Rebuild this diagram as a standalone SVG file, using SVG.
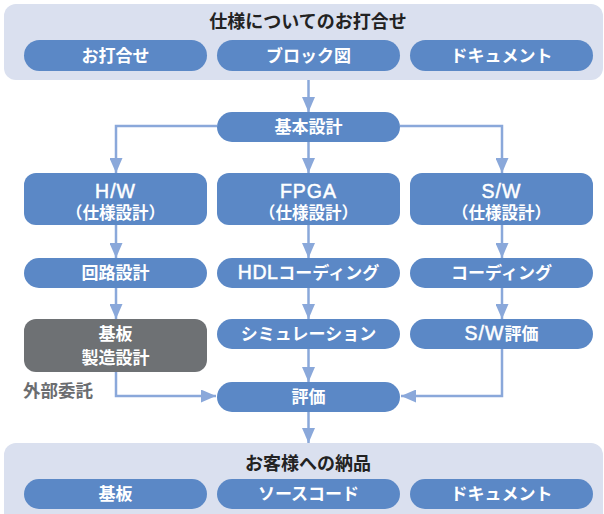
<svg xmlns="http://www.w3.org/2000/svg" width="604" height="514" viewBox="0 0 604 514">
<defs>
<style>
.panel{fill:#dae0ef}
.pill{fill:#5b88c6}
.gray{fill:#6e7174}
.t{font-family:"Noto Sans CJK JP","Noto Sans",sans-serif;font-weight:700;text-anchor:middle}
.w{fill:#ffffff;font-size:17px}
.w2{fill:#ffffff;font-size:16.5px}
.lat{font-family:"Liberation Sans","Noto Sans CJK JP",sans-serif;font-size:19.5px;font-weight:400;letter-spacing:1px;stroke:#ffffff;stroke-width:0.5px}
.h{fill:#222222;font-size:18px}
.note{font-family:"Noto Sans CJK JP","Noto Sans",sans-serif;font-weight:700;fill:#6b6d70;font-size:17.5px}
.c{fill:none;stroke:#8aa8da;stroke-width:2.5}
</style>
<marker id="ah" viewBox="0 0 15 13" refX="15" refY="6.5" markerWidth="15" markerHeight="13" markerUnits="userSpaceOnUse" orient="auto">
<path d="M0,0 L15,6.5 L0,13 Z" fill="#8aa8da"/>
</marker>
</defs>
<rect width="604" height="514" fill="#ffffff"/>

<g id="top-panel">
<rect class="panel" x="4" y="4" width="599" height="76" rx="12"/>
<text class="t h" x="308" y="28">仕様についてのお打合せ</text>
</g>
<g id="n-meeting"><rect class="pill" x="24" y="40" width="183" height="31" rx="15.5"/><text class="t w" x="115.5" y="61.5">お打合せ</text></g>
<g id="n-block"><rect class="pill" x="217" y="40" width="183" height="31" rx="15.5"/><text class="t w" x="308.5" y="61.5">ブロック図</text></g>
<g id="n-doc1"><rect class="pill" x="410" y="40" width="183" height="31" rx="15.5"/><text class="t w" x="501.5" y="61.5">ドキュメント</text></g>

<g id="n-basic"><rect class="pill" x="217" y="112" width="183" height="30" rx="15"/><text class="t w" x="308.5" y="133">基本設計</text></g>

<g id="n-hw"><rect class="pill" x="24" y="173" width="183" height="52" rx="12"/><text class="t w lat" x="115.5" y="198">H/W</text><text class="t w2" x="115.5" y="219">（仕様設計）</text></g>
<g id="n-fpga"><rect class="pill" x="217" y="173" width="183" height="52" rx="12"/><text class="t w lat" x="308.5" y="198">FPGA</text><text class="t w2" x="308.5" y="219">（仕様設計）</text></g>
<g id="n-sw"><rect class="pill" x="410" y="173" width="183" height="52" rx="12"/><text class="t w lat" x="501.5" y="198">S/W</text><text class="t w2" x="501.5" y="219">（仕様設計）</text></g>

<g id="n-circuit"><rect class="pill" x="24" y="258" width="183" height="30" rx="15"/><text class="t w" x="115.5" y="279">回路設計</text></g>
<g id="n-hdl"><rect class="pill" x="217" y="258" width="183" height="30" rx="15"/><text class="t w" x="308.5" y="279"><tspan class="lat" style="letter-spacing:0.5px">HDL</tspan>コーディング</text></g>
<g id="n-coding"><rect class="pill" x="410" y="258" width="183" height="30" rx="15"/><text class="t w" x="501.5" y="279">コーディング</text></g>

<g id="n-board"><rect class="gray" x="24" y="319" width="183" height="53" rx="12"/><text class="t w" x="115.5" y="339.5">基板</text><text class="t w" x="115.5" y="363.5">製造設計</text></g>
<g id="n-sim"><rect class="pill" x="217" y="319" width="183" height="30" rx="15"/><text class="t w" x="308.5" y="340">シミュレーション</text></g>
<g id="n-sweval"><rect class="pill" x="410" y="319" width="183" height="30" rx="15"/><text class="t w" x="501.5" y="340"><tspan class="lat">S/W</tspan>評価</text></g>

<g id="label-outsource"><text class="note" x="23" y="397">外部委託</text></g>

<g id="n-eval"><rect class="pill" x="217" y="382" width="183" height="30" rx="15"/><text class="t w" x="308.5" y="403">評価</text></g>

<g id="bottom-panel">
<rect class="panel" x="4" y="443" width="599" height="84" rx="12"/>
<text class="t h" x="308" y="469.5">お客様への納品</text>
</g>
<g id="n-pcb"><rect class="pill" x="24" y="479" width="183" height="30" rx="15"/><text class="t w" x="115.5" y="500">基板</text></g>
<g id="n-src"><rect class="pill" x="217" y="479" width="183" height="30" rx="15"/><text class="t w" x="308.5" y="500">ソースコード</text></g>
<g id="n-doc2"><rect class="pill" x="410" y="479" width="183" height="30" rx="15"/><text class="t w" x="501.5" y="500">ドキュメント</text></g>

<g id="connectors">
<path class="c" d="M308.5,80 V112" marker-end="url(#ah)"/>
<path class="c" d="M217,126 H116 V173" marker-end="url(#ah)"/>
<path class="c" d="M400,126 H502 V173" marker-end="url(#ah)"/>
<path class="c" d="M308.5,142 V173" marker-end="url(#ah)"/>
<path class="c" d="M116,225 V258" marker-end="url(#ah)"/>
<path class="c" d="M308.5,225 V258" marker-end="url(#ah)"/>
<path class="c" d="M502,225 V258" marker-end="url(#ah)"/>
<path class="c" d="M116,288 V319" marker-end="url(#ah)"/>
<path class="c" d="M308.5,288 V319" marker-end="url(#ah)"/>
<path class="c" d="M502,288 V319" marker-end="url(#ah)"/>
<path class="c" d="M116,372 V396 H216" marker-end="url(#ah)"/>
<path class="c" d="M502,349 V396 H401" marker-end="url(#ah)"/>
<path class="c" d="M308.5,349 V382" marker-end="url(#ah)"/>
<path class="c" d="M308.5,412 V443" marker-end="url(#ah)"/>
</g>
</svg>
